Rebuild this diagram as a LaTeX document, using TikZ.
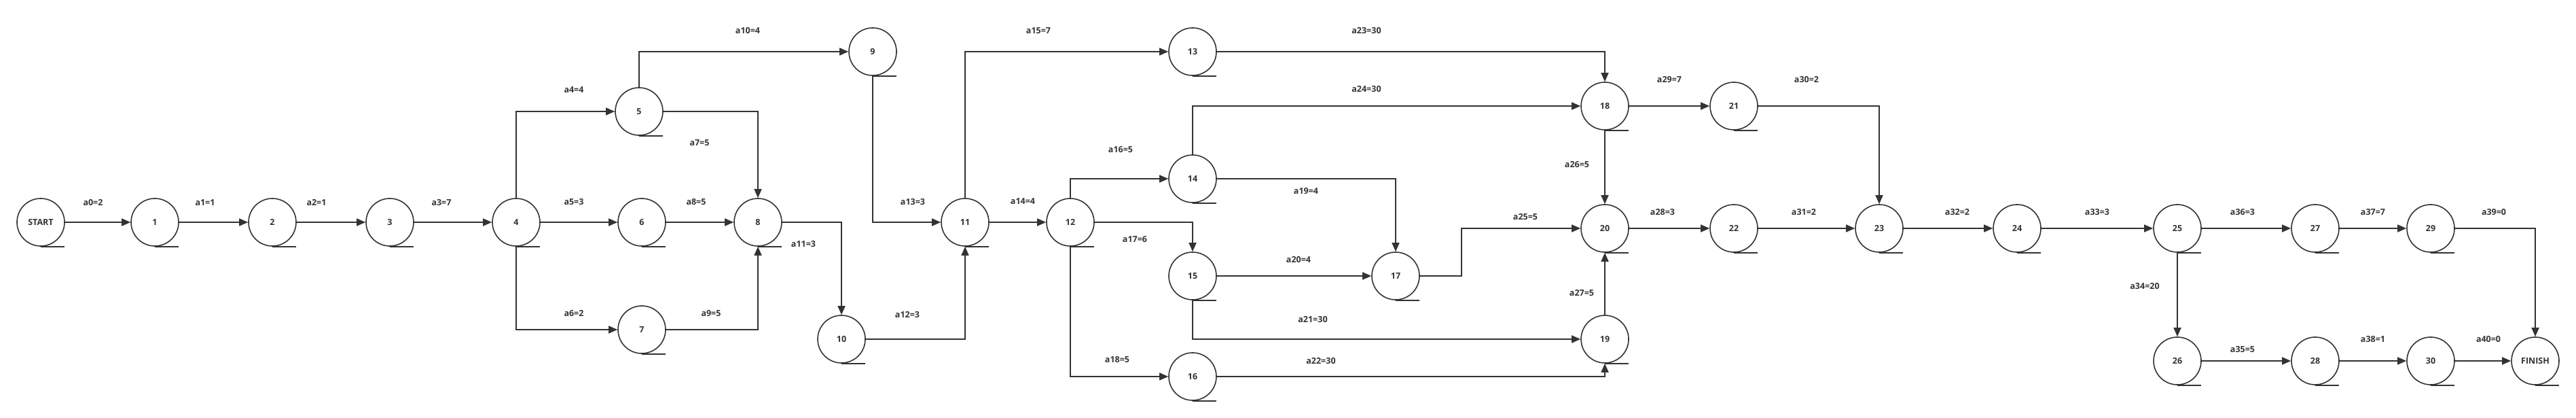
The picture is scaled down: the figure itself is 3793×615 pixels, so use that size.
\documentclass[tikz,border=0pt]{standalone}
\usepackage{fontspec}
\setmainfont{Open Sans}
\usetikzlibrary{arrows.meta}
\definecolor{ink}{HTML}{333333}

\begin{document}
\begin{tikzpicture}[x=1pt, y=-1pt, line width=1.6pt, color=ink,
    evt/.style={circle, draw=ink, minimum size=70pt, inner sep=0pt,
      font=\fontsize{12.5}{15}\selectfont\bfseries},
    lbl/.style={font=\fontsize{12.5}{15}\selectfont\bfseries},
    arc/.style={-{Triangle[length=13pt,width=11pt]}}]
  \useasboundingbox (0,0) rectangle (3793,615);
  % events, each with its tape line at the bottom
  \foreach \n/\x/\y in {START/60/327, 1/228/327, 2/401/327, 3/574/327, 4/760/327,
      5/941/164, 6/945/327, 7/945/485, 8/1116/327, 9/1285/76, 10/1239/499,
      11/1421/327, 12/1576/327, 13/1756/76, 14/1756/263, 15/1756/406, 16/1756/554,
      17/2055/406, 18/2363/156, 19/2363/499, 20/2363/336, 21/2553/156, 22/2553/336,
      23/2767/336, 24/2970/336, 25/3206/336, 26/3206/531, 27/3409/336, 28/3409/531,
      29/3579/336, 30/3579/531, FINISH/3733/531}{
    \node[evt] (n\n) at (\x,\y) {\n};
    \draw (n\n.south) -- ++(35,0);
  }
  % straight activities
  \foreach \a/\b in {START/1, 1/2, 2/3, 3/4, 4/6, 6/8, 11/12, 15/17, 18/20, 18/21,
      19/20, 20/22, 22/23, 23/24, 24/25, 25/26, 25/27, 27/29, 26/28, 28/30, 30/FINISH}
    \draw[arc] (n\a) -- (n\b);
  % up or down, then across
  \foreach \a/\b in {4.north/5, 4.south/7, 5.north/9, 9.south/11, 11.north/13,
      12.north/14, 12.south/16, 14.north/18, 15.south/19}
    \draw[arc] (n\a) |- (n\b.west);
  % across, then up or down
  \foreach \a/\b in {5/8.north, 7/8.south, 8/10.north, 10/11.south, 12/15.north,
      13/18.north, 14/17.north, 16/19.south, 21/23.north, 29/FINISH.north}
    \draw[arc] (n\a.east) -| (n\b);
  \draw[arc] (n17.east) -- ++(61,0) |- (n20.west);
  % durations
  \foreach \i/\w/\x/\y in {0/2/137/298, 1/1/302/298, 2/1/466/298, 3/7/650/298,
      4/4/845/132, 5/3/845/297, 6/2/845/461, 7/5/1030/210, 8/5/1025/297,
      9/5/1047/461, 10/4/1101/45, 11/3/1183/359, 12/3/1336/463, 13/3/1344/297,
      14/4/1506/296, 15/7/1529/45, 16/5/1650/220, 17/6/1671/352, 18/5/1645/529,
      19/4/1923/281, 20/4/1912/382, 21/30/1933/470, 22/30/1945/531, 23/30/2012/45,
      24/30/2012/131, 25/5/2246/319, 26/5/2322/242, 27/5/2329/431, 28/3/2448/312,
      29/7/2458/117, 30/2/2660/117, 31/2/2656/312, 32/2/2882/312, 33/3/3088/312,
      34/20/3158/421, 35/5/3302/514, 36/3/3302/312, 37/7/3494/312, 38/1/3494/499,
      39/0/3672/312, 40/0/3664/499}
    \node[lbl] (a\i) at (\x,\y) {a\i=\w};
\end{tikzpicture}
\end{document}
